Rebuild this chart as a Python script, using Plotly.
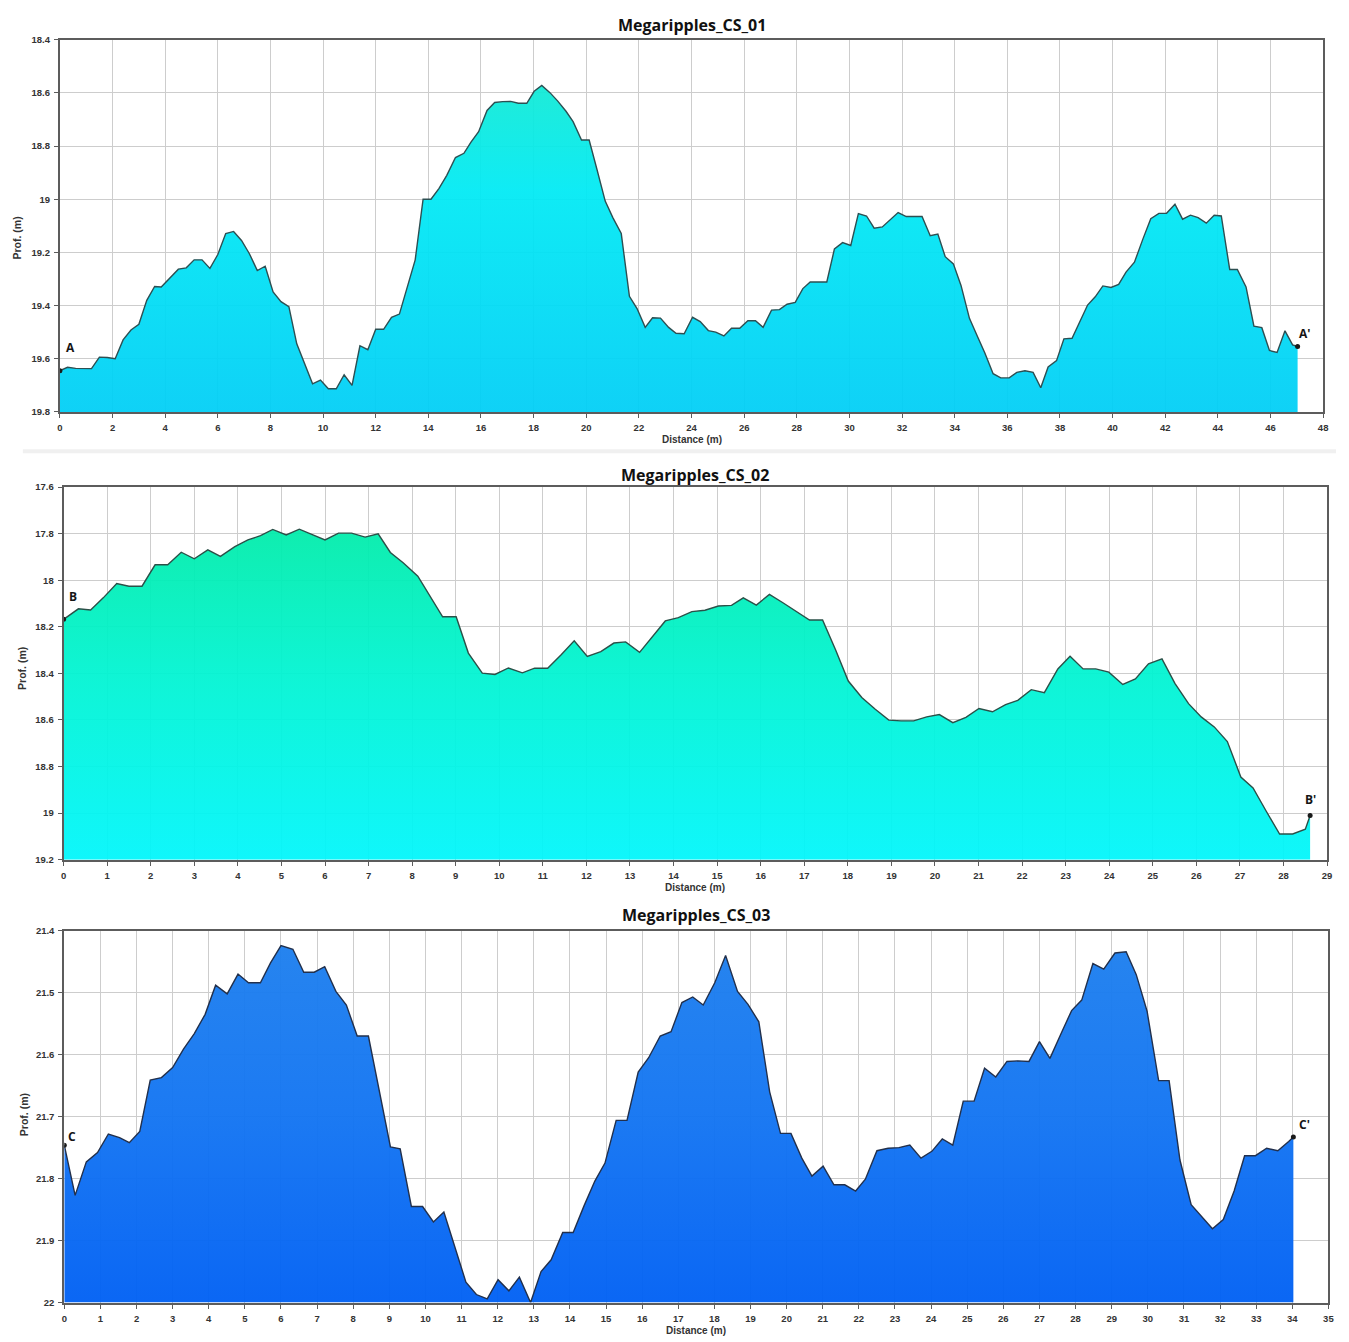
import plotly.graph_objects as go

# ---------------------------------------------------------------- data
# Cross-section CS_01 (A - A')
dist_01 = [0, 0.29, 0.6, 1.2, 1.5, 1.8, 2.1, 2.4, 2.7, 3.0,
           3.3, 3.6, 3.85, 4.2, 4.5, 4.8, 5.1, 5.4, 5.7, 6.0,
           6.3, 6.6, 6.9, 7.2, 7.5, 7.8, 8.1, 8.4, 8.7, 9.0,
           9.3, 9.6, 9.9, 10.2, 10.5, 10.8, 11.1, 11.4, 11.7, 12.0,
           12.3, 12.6, 12.9, 13.2, 13.5, 13.8, 14.1, 14.4, 14.7, 15.03,
           15.35, 15.62, 15.91, 16.23, 16.52, 16.82, 17.13, 17.42, 17.74, 18.02,
           18.31, 18.62, 18.91, 19.23, 19.50, 19.82, 20.11, 20.41, 20.72, 21.01,
           21.33, 21.64, 21.93, 22.24, 22.52, 22.82, 23.13, 23.41, 23.72, 24.04,
           24.33, 24.64, 24.92, 25.23, 25.52, 25.83, 26.14, 26.43, 26.72, 27.04,
           27.34, 27.63, 27.94, 28.23, 28.51, 28.82, 29.14, 29.43, 29.74, 30.05,
           30.34, 30.65, 30.94, 31.25, 31.56, 31.85, 32.16, 32.45, 32.76, 33.07,
           33.36, 33.64, 33.95, 34.24, 34.56, 34.87, 35.15, 35.46, 35.75, 36.07,
           36.36, 36.67, 36.98, 37.27, 37.55, 37.87, 38.15, 38.46, 38.78, 39.05,
           39.34, 39.63, 39.94, 40.23, 40.51, 40.83, 41.15, 41.45, 41.76, 42.05,
           42.37, 42.66, 42.96, 43.25, 43.56, 43.86, 44.13, 44.45, 44.74, 45.07,
           45.37, 45.67, 45.96, 46.25, 46.55, 46.84, 47.03]
depth_01 = [19.645, 19.632, 19.636, 19.637, 19.594, 19.595, 19.60, 19.529, 19.492, 19.47,
            19.38, 19.328, 19.33, 19.293, 19.263, 19.258, 19.228, 19.228, 19.26, 19.208,
            19.129, 19.121, 19.155, 19.205, 19.268, 19.252, 19.349, 19.385, 19.404, 19.544,
            19.616, 19.694, 19.68, 19.713, 19.713, 19.66, 19.70, 19.551, 19.566, 19.489,
            19.489, 19.444, 19.432, 19.333, 19.228, 19.0, 19.0, 18.96, 18.91, 18.843,
            18.827, 18.785, 18.746, 18.666, 18.636, 18.633, 18.632, 18.639, 18.639, 18.594,
            18.572, 18.599, 18.63, 18.669, 18.708, 18.777, 18.777, 18.889, 19.007, 19.069,
            19.129, 19.365, 19.411, 19.482, 19.446, 19.447, 19.482, 19.504, 19.506, 19.444,
            19.46, 19.494, 19.5, 19.514, 19.485, 19.485, 19.457, 19.457, 19.482, 19.417,
            19.415, 19.395, 19.388, 19.336, 19.311, 19.311, 19.311, 19.187, 19.163, 19.174,
            19.054, 19.063, 19.109, 19.104, 19.078, 19.05, 19.065, 19.065, 19.065, 19.137,
            19.131, 19.216, 19.243, 19.324, 19.448, 19.517, 19.579, 19.656, 19.672, 19.672,
            19.651, 19.645, 19.651, 19.709, 19.631, 19.607, 19.525, 19.523, 19.457, 19.398,
            19.367, 19.326, 19.332, 19.32, 19.274, 19.237, 19.15, 19.073, 19.053, 19.053,
            19.019, 19.075, 19.06, 19.069, 19.09, 19.06, 19.063, 19.264, 19.264, 19.33,
            19.477, 19.483, 19.569, 19.576, 19.495, 19.548, 19.554]

# Cross-section CS_02 (B - B')
dist_02 = [0, 0.34, 0.62, 0.91, 1.22, 1.50, 1.80, 2.10, 2.39, 2.70,
           3.00, 3.31, 3.60, 3.93, 4.23, 4.52, 4.80, 5.11, 5.41, 5.72,
           6.00, 6.31, 6.61, 6.92, 7.22, 7.50, 7.80, 8.13, 8.41, 8.70,
           9.01, 9.29, 9.61, 9.90, 10.21, 10.53, 10.81, 11.11, 11.42, 11.72,
           12.02, 12.33, 12.63, 12.90, 13.22, 13.52, 13.81, 14.11, 14.42, 14.72,
           15.03, 15.33, 15.60, 15.90, 16.20, 16.51, 16.81, 17.12, 17.42, 17.72,
           18.01, 18.32, 18.63, 18.94, 19.22, 19.51, 19.81, 20.10, 20.41, 20.71, 21.01,
           21.32, 21.62, 21.90, 22.21, 22.51, 22.82, 23.10, 23.40, 23.69, 23.99,
           24.31, 24.60, 24.90, 25.21, 25.51, 25.82, 26.11, 26.41, 26.71, 27.02,
           27.30, 27.60, 27.91, 28.21, 28.50, 28.61]
depth_02 = [18.168, 18.123, 18.128, 18.076, 18.014, 18.026, 18.026, 17.934, 17.934, 17.88,
            17.908, 17.87, 17.898, 17.856, 17.827, 17.809, 17.782, 17.806, 17.781, 17.806,
            17.827, 17.798, 17.798, 17.815, 17.801, 17.881, 17.926, 17.983, 18.068, 18.157,
            18.157, 18.313, 18.399, 18.405, 18.377, 18.398, 18.378, 18.378, 18.32, 18.26,
            18.327, 18.307, 18.27, 18.265, 18.31, 18.242, 18.175, 18.161, 18.135, 18.129,
            18.111, 18.108, 18.076, 18.107, 18.061, 18.097, 18.132, 18.171, 18.171, 18.3,
            18.433, 18.504, 18.554, 18.601, 18.604, 18.604, 18.587, 18.577, 18.612, 18.589, 18.551,
            18.565, 18.534, 18.516, 18.47, 18.483, 18.381, 18.327, 18.381, 18.381, 18.395,
            18.448, 18.424, 18.359, 18.338, 18.444, 18.53, 18.587, 18.63, 18.693, 18.845,
            18.892, 18.991, 19.09, 19.09, 19.069, 19.01]

# Cross-section CS_03 (C - C')
dist_03 = [0, 0.30, 0.61, 0.92, 1.22, 1.53, 1.80, 2.09, 2.38, 2.69,
           3.00, 3.30, 3.60, 3.90, 4.19, 4.51, 4.81, 5.10, 5.43, 5.71,
           6.00, 6.33, 6.63, 6.92, 7.21, 7.52, 7.81, 8.11, 8.42, 8.73,
           9.03, 9.30, 9.61, 9.92, 10.22, 10.51, 10.82, 11.12, 11.41, 11.71,
           12.01, 12.31, 12.60, 12.91, 13.20, 13.48, 13.80, 14.09, 14.39, 14.69,
           14.97, 15.28, 15.58, 15.89, 16.18, 16.50, 16.80, 17.10, 17.40, 17.69,
           18.01, 18.31, 18.64, 18.93, 19.23, 19.53, 19.83, 20.12, 20.42, 20.70,
           21.01, 21.31, 21.61, 21.91, 22.18, 22.50, 22.81, 23.11, 23.41, 23.72,
           24.02, 24.31, 24.60, 24.89, 25.19, 25.48, 25.79, 26.10, 26.40, 26.71,
           27.00, 27.29, 27.59, 27.89, 28.17, 28.48, 28.78, 29.09, 29.40, 29.68,
           29.98, 30.30, 30.59, 30.89, 31.20, 31.49, 31.79, 32.09, 32.39, 32.68,
           32.98, 33.29, 33.60, 33.90, 34.03]
depth_03 = [21.746, 21.827, 21.773, 21.758, 21.728, 21.734, 21.742, 21.724, 21.641, 21.637,
            21.621, 21.591, 21.566, 21.535, 21.488, 21.502, 21.47, 21.484, 21.484, 21.452,
            21.424, 21.43, 21.467, 21.467, 21.458, 21.498, 21.52, 21.57, 21.57, 21.663,
            21.749, 21.752, 21.845, 21.845, 21.87, 21.854, 21.91, 21.967, 21.987, 21.994,
            21.963, 21.981, 21.959, 22.0, 21.95, 21.931, 21.887, 21.887, 21.844, 21.804,
            21.775, 21.706, 21.706, 21.628, 21.605, 21.57, 21.563, 21.516, 21.507, 21.52,
            21.484, 21.44, 21.498, 21.519, 21.547, 21.66, 21.727, 21.727, 21.767, 21.796,
            21.78, 21.81, 21.81, 21.82, 21.801, 21.755, 21.751, 21.75, 21.746, 21.767,
            21.756, 21.736, 21.746, 21.675, 21.675, 21.622, 21.636, 21.611, 21.61, 21.611,
            21.579, 21.606, 21.567, 21.529, 21.512, 21.453, 21.462, 21.436, 21.434, 21.471,
            21.53, 21.642, 21.642, 21.77, 21.842, 21.861, 21.881, 21.866, 21.82, 21.763,
            21.763, 21.751, 21.755, 21.74, 21.733]

titles = ["Megaripples_CS_01", "Megaripples_CS_02", "Megaripples_CS_03"]
end_labels = [("A", "A'"), ("B", "B'"), ("C", "C'")]
x_ranges = [(0, 48), (0, 29), (0, 35)]
x_steps = [2, 1, 1]
depth_ranges = [(18.4, 19.8), (17.6, 19.2), (21.4, 22.0)]   # (top, bottom)
depth_steps = [0.2, 0.2, 0.1]

# ---------------------------------------------------------------- styling
W, H = 1349, 1342
FONT_TICK = "Liberation Sans, Arial, sans-serif"
FONT_TITLE = "Open Sans, sans-serif"

# plot-area boxes in pixels: (left, right, top, bottom)
boxes = [(57.3, 1329, 34, 409.3), (61, 1333, 485, 860.7), (61.7, 1334.3, 932.3, 1307.3)]
# vertical fill gradients (slightly translucent so the grid shows through)
fill_scales = [
    [[0, "rgba(24,234,200,0.94)"], [0.4, "rgba(0,234,244,0.94)"], [1, "rgba(0,206,246,0.94)"]],
    [[0, "rgba(0,234,158,0.94)"], [0.5, "rgba(0,244,210,0.94)"], [1, "rgba(0,246,252,0.94)"]],
    [[0, "rgba(30,128,238,0.96)"], [0.5, "rgba(18,116,242,0.96)"], [1, "rgba(0,96,244,0.96)"]],
]
line_colors = ["#2d4f52", "#2b5048", "#22304c"]
title_px = [19, 473, 917]
xlabel_px = [437, 889, 1335]
ylabel_pos = [(14.5, 234), (18.5, 668), (20.5, 1118)]
label_shifts = [((11, 23), (7, 13)), ((9, 23), (0, 16)), ((8, 9), (11, 13))]

series = [(dist_01, depth_01), (dist_02, depth_02), (dist_03, depth_03)]


def px_x(p):
    return p / W


def px_y(p):
    return 1 - p / H


fig = go.Figure()
annotations = []
layout_axes = {}

for i, ((dist, depth), title) in enumerate(zip(series, titles)):
    n = "" if i == 0 else str(i + 1)
    xa, ya = "x" + n, "y" + n
    top, bottom = depth_ranges[i]
    left, right, ptop, pbot = boxes[i]

    # floor of the section (axis bottom) to fill down to
    fig.add_trace(go.Scatter(
        x=dist, y=[bottom] * len(dist), xaxis=xa, yaxis=ya,
        mode="lines", line=dict(width=0), hoverinfo="skip", showlegend=False))
    # seabed profile
    fig.add_trace(go.Scatter(
        x=dist, y=depth, xaxis=xa, yaxis=ya, mode="lines",
        line=dict(color=line_colors[i], width=1.4),
        fill="tonexty",
        fillgradient=dict(type="vertical", start=top, stop=bottom,
                          colorscale=fill_scales[i]),
        showlegend=False))
    # section end points
    fig.add_trace(go.Scatter(
        x=[dist[0], dist[-1]], y=[depth[0], depth[-1]], xaxis=xa, yaxis=ya,
        mode="markers", marker=dict(color="#1a1a1a", size=5),
        showlegend=False, hoverinfo="skip"))

    for (lab, (sx, sy), xv, yv) in zip(end_labels[i], label_shifts[i],
                                       (dist[0], dist[-1]), (depth[0], depth[-1])):
        annotations.append(dict(
            x=xv, y=yv, xref=xa, yref=ya, text=lab, showarrow=False,
            xshift=sx, yshift=sy, xanchor="center", yanchor="middle",
            font=dict(family=FONT_TITLE, size=12, color="#151515", weight="bold")))

    common = dict(showline=True, linecolor="#5c5c5c", linewidth=2, mirror=True,
                  showgrid=True, gridcolor="#cdcdcd", gridwidth=1,
                  ticks="outside", ticklen=4, tickcolor="#5c5c5c", tickwidth=1,
                  tickfont=dict(family=FONT_TICK, size=9.5, color="#333333", weight="bold"),
                  zeroline=False, fixedrange=True)
    layout_axes["xaxis" + n] = dict(
        common, domain=[px_x(left), px_x(right)], anchor=ya,
        range=list(x_ranges[i]), tick0=0, dtick=x_steps[i], ticklabelstandoff=2)
    layout_axes["yaxis" + n] = dict(
        common, domain=[px_y(pbot), px_y(ptop)], anchor=xa,
        range=[bottom, top], tick0=top, dtick=depth_steps[i], ticklabelstandoff=2)

    cx = (left + right) / 2
    annotations.append(dict(
        x=px_x(cx), y=px_y(title_px[i]), xref="paper", yref="paper",
        text=title, showarrow=False, xanchor="center", yanchor="middle",
        font=dict(family=FONT_TITLE, size=16, color="#111111", weight="bold")))
    annotations.append(dict(
        x=px_x(cx), y=px_y(xlabel_px[i]), xref="paper", yref="paper",
        text="Distance (m)", showarrow=False, xanchor="center", yanchor="middle",
        font=dict(family=FONT_TICK, size=10, color="#333333", weight="bold")))
    yx, yy = ylabel_pos[i]
    annotations.append(dict(
        x=px_x(yx), y=px_y(yy), xref="paper", yref="paper",
        text="Prof. (m)", showarrow=False, textangle=-90,
        xanchor="center", yanchor="middle",
        font=dict(family=FONT_TICK, size=10.5, color="#333333", weight="bold")))

fig.update_layout(
    width=W, height=H,
    margin=dict(l=0, r=0, t=0, b=0),
    paper_bgcolor="white", plot_bgcolor="white",
    annotations=annotations,
    shapes=[dict(type="line", xref="paper", yref="paper",
                 x0=px_x(20), x1=px_x(1342), y0=px_y(449), y1=px_y(449),
                 line=dict(color="#f0f0f0", width=4))],
    **layout_axes)

fig.write_html("out.html")
